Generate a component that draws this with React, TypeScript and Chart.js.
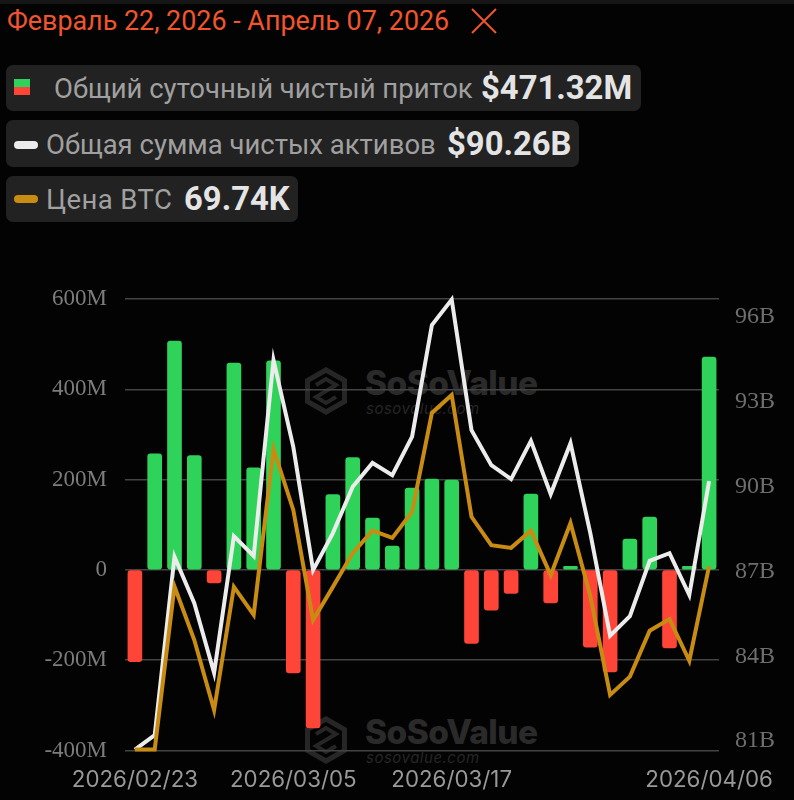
import React, { useEffect, useRef } from 'react';
import { Chart, registerables } from 'chart.js';

Chart.register(...registerables);

const dates = [
    '2026/02/23', '2026/02/24', '2026/02/25', '2026/02/26', '2026/02/27',
    '2026/03/02', '2026/03/03', '2026/03/04', '2026/03/05', '2026/03/06',
    '2026/03/09', '2026/03/10', '2026/03/11', '2026/03/12', '2026/03/13',
    '2026/03/16', '2026/03/17', '2026/03/18', '2026/03/19', '2026/03/20',
    '2026/03/23', '2026/03/24', '2026/03/25', '2026/03/26', '2026/03/27',
    '2026/03/30', '2026/03/31', '2026/04/01', '2026/04/02', '2026/04/06',
];
const shownDates = ['2026/02/23', '2026/03/05', '2026/03/17', '2026/04/06'];

// daily net inflow, $M
const netInflow = [
    -203, 257, 507, 253, -29, 458, 226, 463, -228, -350,
    167, 249, 115, 53, 181, 201, 199, -163, -89, -52,
    168, -73, 8, -171, -226, 68, 117, -173, 8, 471.32,
];
// total net assets, $B
const netAssets = [
    80.7, 81.21, 87.52, 85.88, 83.41, 88.25, 87.55, 94.48, 91.41, 87.05,
    88.36, 90.0, 90.84, 90.41, 91.77, 95.72, 96.62, 92.0, 90.76, 90.27,
    91.62, 89.74, 91.54, 88.36, 84.73, 85.42, 87.38, 87.65, 86.17, 90.2,
];
// BTC price, $K
const btcPrice = [
    64.43, 64.43, 69.15, 67.6, 65.57, 69.14, 68.33, 73.13, 71.37, 68.18,
    69.14, 70.12, 70.77, 70.56, 71.31, 74.18, 74.7, 71.17, 70.35, 70.27,
    70.77, 69.48, 70.99, 68.88, 66.01, 66.54, 67.87, 68.21, 67.0, 69.74,
];
const rightTicks = [96, 93, 90, 87, 84, 81];

const GREEN = '#2fd35a';
const RED = '#ff4438';
const WHITE = '#ececec';
const GOLD = '#c98c12';
const GRID = '#444444';

const chip: React.CSSProperties = { position: 'absolute', left: 6, background: '#222222', borderRadius: 7 };
const label: React.CSSProperties = {
    position: 'absolute',
    fontFamily: 'Roboto, sans-serif',
    fontSize: 27.5,
    lineHeight: '30px',
    color: '#a0a0a0',
    whiteSpace: 'nowrap',
};
const amount: React.CSSProperties = { ...label, fontSize: 32.8, fontWeight: 700, color: '#e4e4e4' };

const Watermark = ({ top }: { top: number }) => (
    <div style={{ position: 'absolute', left: 303, top, width: 240, height: 52 }}>
        <svg width="46" height="52" viewBox="0 0 46 52" style={{ position: 'absolute', left: 0, top: 0 }}>
            <path d="M23 2 L44 14 L44 38 L23 50 L2 38 L2 14 Z M23 8 L7 17 L7 35 L23 44 L39 35 L39 17 Z" fill="#262626" fillRule="evenodd" />
            <path d="M13 20 L23 14 L33 20 L23 26 L13 32 L23 38 L33 32" stroke="#262626" strokeWidth="4" fill="none" />
        </svg>
        <span style={{ position: 'absolute', left: 62, top: 1, fontFamily: 'Inter, sans-serif', fontWeight: 800, fontSize: 33.5, lineHeight: '34px', color: '#2a2a2a', letterSpacing: -0.6 }}>SoSoValue</span>
        <span style={{ position: 'absolute', left: 63, top: 35, fontFamily: 'Inter, sans-serif', fontStyle: 'italic', fontSize: 15, lineHeight: '18px', color: '#262626', letterSpacing: 0.5 }}>sosovalue.com</span>
    </div>
);

const App: React.FC = () => {
    const chartRef = useRef<HTMLCanvasElement | null>(null);

    useEffect(() => {
        document.body.style.margin = '0';
        document.body.style.background = '#030303';
        if (!chartRef.current) return;

        const myChart = new Chart(chartRef.current, {
            type: 'bar',
            data: {
                labels: dates,
                datasets: [
                    {
                        type: 'line',
                        label: 'Цена BTC',
                        data: btcPrice,
                        yAxisID: 'yBtc',
                        borderColor: GOLD,
                        borderWidth: 4,
                        pointRadius: 0,
                        tension: 0,
                        clip: false,
                        order: 1,
                    },
                    {
                        type: 'line',
                        label: 'Общая сумма чистых активов',
                        data: netAssets,
                        yAxisID: 'yAssets',
                        borderColor: WHITE,
                        borderWidth: 4,
                        pointRadius: 0,
                        tension: 0,
                        clip: false,
                        order: 2,
                    },
                    {
                        type: 'bar',
                        label: 'Общий суточный чистый приток',
                        data: netInflow,
                        yAxisID: 'yFlow',
                        backgroundColor: netInflow.map((v) => (v >= 0 ? GREEN : RED)),
                        barThickness: 14,
                        borderRadius: 3,
                        borderSkipped: false,
                        order: 3,
                    },
                ],
            } as any,
            options: {
                responsive: false,
                animation: false,
                layout: { padding: { top: 299 } },
                plugins: { legend: { display: false }, tooltip: { enabled: false } },
                scales: {
                    x: {
                        grid: { display: false },
                        border: { display: false },
                        afterFit: (s: any) => { s.height = 49.5; },
                        ticks: {
                            autoSkip: false,
                            minRotation: 0,
                            maxRotation: 0,
                            padding: 8,
                            color: '#999999',
                            font: { family: 'Inter', size: 22.3 },
                            callback: (_v: any, i: number) => (shownDates.includes(dates[i]) ? dates[i] : ''),
                        },
                    },
                    yFlow: {
                        position: 'left',
                        min: -400,
                        max: 600,
                        afterFit: (s: any) => { s.width = 125; },
                        grid: { color: GRID, lineWidth: 1.5, drawTicks: false },
                        border: { display: false },
                        ticks: {
                            stepSize: 200,
                            padding: 18,
                            color: '#7c7c7c',
                            font: { family: 'Liberation Serif', size: 23 },
                            callback: (v: any) => (v === 0 ? '0' : `${v}M`),
                        },
                    },
                    yAssets: {
                        position: 'right',
                        min: 80.67,
                        max: 96.64,
                        afterFit: (s: any) => { s.width = 75; },
                        afterBuildTicks: (s: any) => { s.ticks = rightTicks.map((value) => ({ value })); },
                        grid: { drawOnChartArea: false, drawTicks: false },
                        border: { display: false },
                        ticks: {
                            padding: 16,
                            color: '#6e6e6e',
                            font: { family: 'Liberation Serif', size: 24 },
                            callback: (v: any) => `${v}B`,
                        },
                    },
                    yBtc: { display: false, min: 64.4, max: 77.48 },
                },
            } as any,
        });

        return () => {
            myChart.destroy();
        };
    }, []);

    return (
        <div style={{ position: 'relative', width: 794, height: 800, background: '#030303', overflow: 'hidden' }}>
            <div style={{ position: 'absolute', left: 0, top: 0, width: 794, height: 4, background: '#151515' }} />
            <span style={{ ...label, left: 7, top: 6, fontSize: 26.9, color: '#f0552d' }}>Февраль 22, 2026 - Апрель 07, 2026</span>
            <svg width="30" height="28" style={{ position: 'absolute', left: 469, top: 7 }}>
                <path d="M3 2 L27 26 M27 2 L3 26" stroke="#f0552d" strokeWidth="2" fill="none" />
            </svg>

            <div style={{ ...chip, top: 65, width: 635, height: 46 }} />
            <div style={{ position: 'absolute', left: 14, top: 79, width: 16, height: 8, background: GREEN }} />
            <div style={{ position: 'absolute', left: 14, top: 87, width: 16, height: 8, background: RED }} />
            <span style={{ ...label, left: 54, top: 74 }}>Общий суточный чистый приток</span>
            <span style={{ ...amount, left: 481, top: 73 }}>$471.32M</span>

            <div style={{ ...chip, top: 120, width: 573, height: 47 }} />
            <div style={{ position: 'absolute', left: 14, top: 141, width: 24, height: 8, borderRadius: 4, background: WHITE }} />
            <span style={{ ...label, left: 46, top: 130 }}>Общая сумма чистых активов</span>
            <span style={{ ...amount, left: 447, top: 129 }}>$90.26B</span>

            <div style={{ ...chip, top: 176, width: 292, height: 46 }} />
            <div style={{ position: 'absolute', left: 14, top: 195, width: 24, height: 8, borderRadius: 4, background: GOLD }} />
            <span style={{ ...label, left: 46, top: 185, letterSpacing: 0.4 }}>Цена BTC</span>
            <span style={{ ...amount, left: 184, top: 184 }}>69.74K</span>

            <Watermark top={365} />
            <Watermark top={714} />

            <canvas ref={chartRef} width={794} height={800} style={{ position: 'absolute', left: 0, top: 0, display: 'block' }} />
        </div>
    );
};

export default App;
